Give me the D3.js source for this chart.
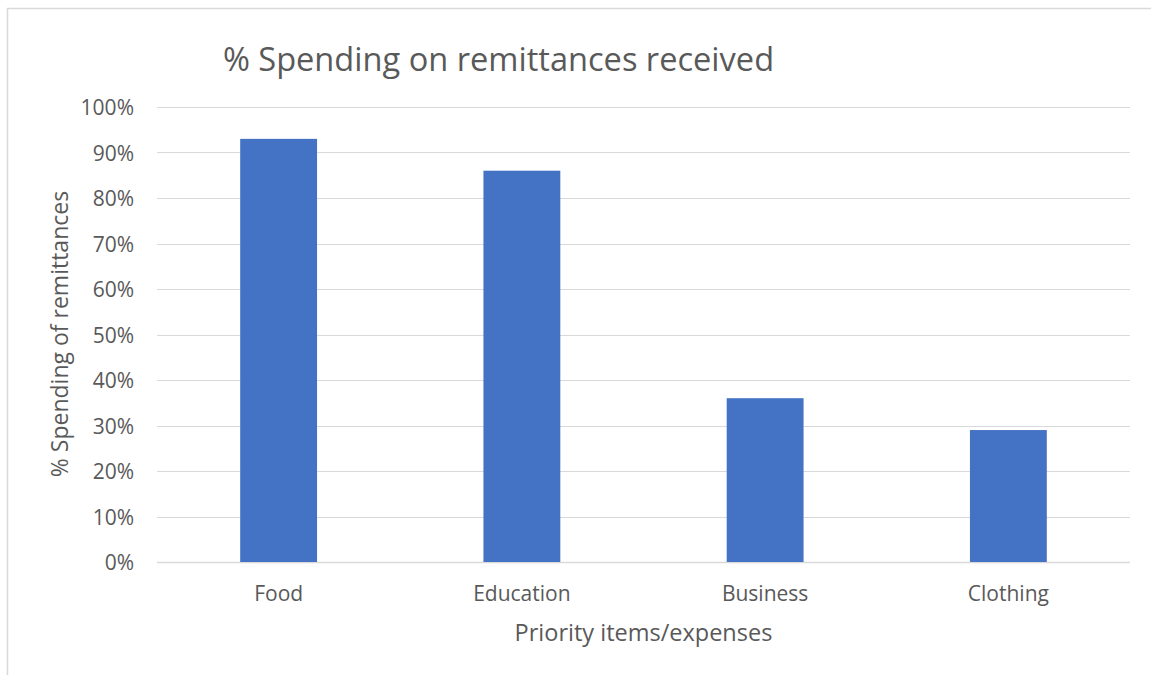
<!DOCTYPE html>
<html>
<head>
<meta charset="utf-8">
<script src="https://cdn.jsdelivr.net/npm/d3@7"></script>
<style>
  body { margin: 0; background: #fff; }
  text { font-family: "Open Sans", Lato, sans-serif; fill: #595959; }
</style>
</head>
<body>
<div id="myChart"></div>
<script>
const categories = ["Food", "Education", "Business", "Clothing"];
const values = [0.93, 0.86, 0.36, 0.29];
const yTicks = [0, 0.1, 0.2, 0.3, 0.4, 0.5, 0.6, 0.7, 0.8, 0.9, 1.0];

const W = 1151, H = 675;
const margin = { top: 107, right: 21, bottom: 113, left: 157 };
const width = W - margin.left - margin.right;
const height = H - margin.top - margin.bottom;

const svg = d3.select("#myChart")
  .append("svg")
  .attr("width", W)
  .attr("height", H);

// chart frame (cropped at right and bottom)
svg.append("path")
  .attr("d", `M7.5,${H} V8.5 H${W}`)
  .attr("fill", "none")
  .attr("stroke", "#d9d9d9")
  .attr("stroke-width", 1.5);

const g = svg.append("g")
  .attr("transform", `translate(${margin.left}, ${margin.top})`);

const xScale = d3.scaleBand()
  .domain(categories)
  .range([0, width])
  .paddingInner(0.684)
  .paddingOuter(0.342);

const yScale = d3.scaleLinear().domain([0, 1]).range([height, 0]);

// gridlines
g.selectAll(".grid")
  .data(yTicks)
  .enter()
  .append("line")
  .attr("x1", 0)
  .attr("x2", width)
  .attr("y1", (d) => Math.round(yScale(d)) + 0.5)
  .attr("y2", (d) => Math.round(yScale(d)) + 0.5)
  .attr("stroke", "#d9d9d9")
  .attr("stroke-width", (d) => (d === 0 ? 1.5 : 1));

// y tick labels
const yaxis = d3.axisLeft(yScale)
  .tickValues(yTicks)
  .tickFormat(d3.format(".0%"))
  .tickSize(0)
  .tickPadding(23);

g.append("g")
  .call(yaxis)
  .call((a) => a.select(".domain").remove())
  .selectAll("text")
  .style("font-size", "21px")
  .attr("dy", "0.36em");

// bars
g.selectAll(".bar")
  .data(values)
  .enter()
  .append("rect")
  .attr("x", (d, i) => xScale(categories[i]))
  .attr("y", (d) => yScale(d))
  .attr("width", xScale.bandwidth())
  .attr("height", (d) => height - yScale(d))
  .attr("fill", "#4472c4");

// x tick labels
const xaxis = d3.axisBottom(xScale).tickSize(0).tickPadding(0);
g.append("g")
  .attr("transform", `translate(0, ${height})`)
  .call(xaxis)
  .call((a) => a.select(".domain").remove())
  .selectAll("text")
  .attr("y", 39)
  .attr("dy", 0)
  .style("font-size", "21px");

// axis titles
svg.append("text")
  .attr("x", margin.left + width / 2)
  .attr("y", 641)
  .attr("text-anchor", "middle")
  .style("font-size", "23.5px")
  .text("Priority items/expenses");

svg.append("text")
  .attr("transform", `translate(68, 334) rotate(-90)`)
  .attr("text-anchor", "middle")
  .style("font-size", "23px")
  .text("% Spending of remittances");

// title
svg.append("text")
  .attr("x", 498.5)
  .attr("y", 71)
  .attr("text-anchor", "middle")
  .style("font-size", "32.6px")
  .text("% Spending on remittances received");
</script>
</body>
</html>
